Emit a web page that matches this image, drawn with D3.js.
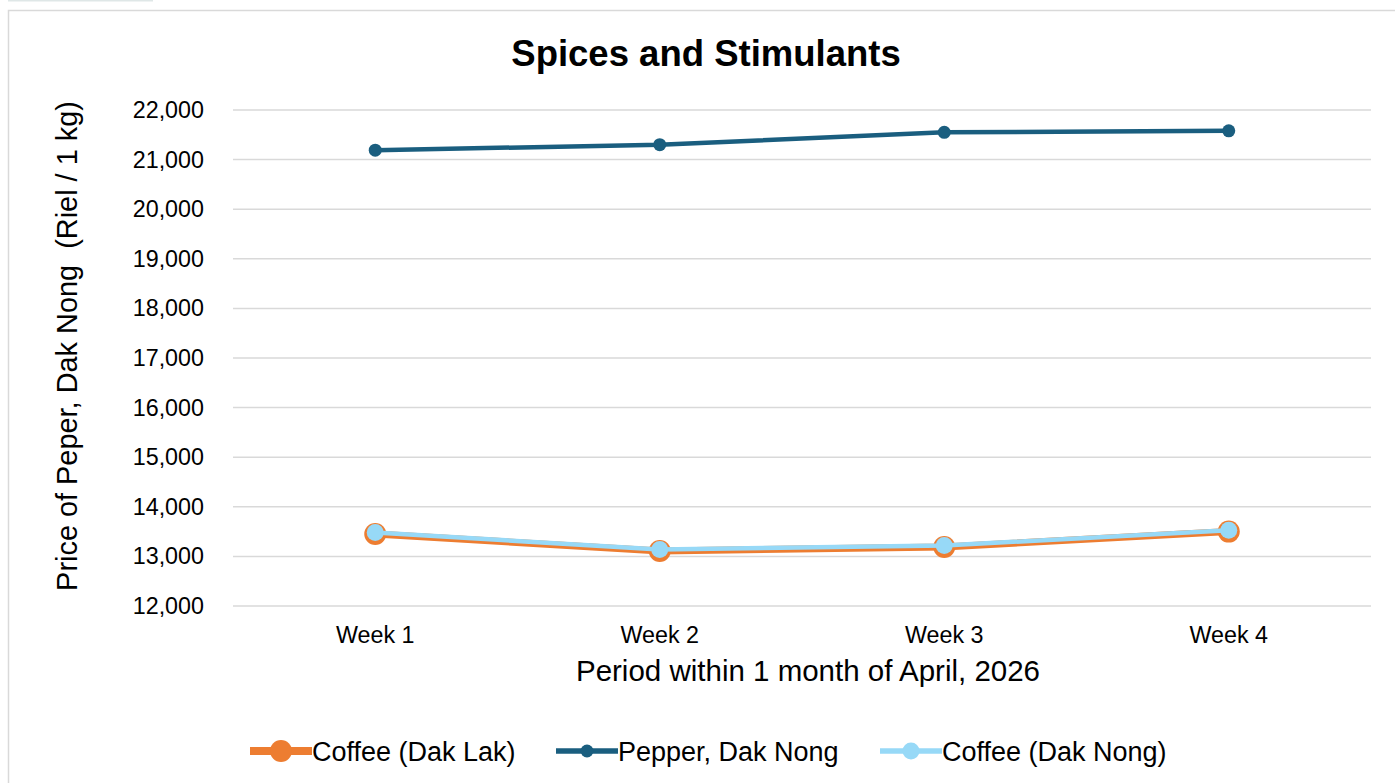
<!DOCTYPE html>
<html><head><meta charset="utf-8">
<script src="https://cdn.jsdelivr.net/npm/d3@7/dist/d3.min.js"></script>
<style>body{margin:0;background:#fff;}svg{display:block;font-family:"Liberation Sans",Arial,sans-serif;}</style>
</head><body>
<svg id="c" width="1395" height="783"></svg>
<script>
const categories = ["Week 1","Week 2","Week 3","Week 4"];
const coffeeDakLak = [13450, 13110, 13190, 13500];
const pepperDakNong = [21190, 21300, 21550, 21580];
const coffeeDakNong = [13480, 13140, 13220, 13525];
const yTicks = [12000,13000,14000,15000,16000,17000,18000,19000,20000,21000,22000];
const seriesNames = ["Coffee (Dak Lak)","Pepper, Dak Nong","Coffee (Dak Nong)"];

const svg = d3.select("#c");
// frame
svg.append("rect").attr("x",8).attr("y",0).attr("width",145).attr("height",1.5).attr("fill","#dfe7e7");
svg.append("rect").attr("x",8.5).attr("y",10.5).attr("width",1400).attr("height",800).attr("fill","#fff").attr("stroke","#d9d9d9").attr("stroke-width",1.5);

const x = d3.scaleBand().domain(categories).range([233,1371]);
const y = d3.scaleLinear().domain([12000,22000]).range([606,110]);

// grid
svg.append("g").selectAll("line").data(yTicks).join("line")
  .attr("x1",233).attr("x2",1371).attr("y1",d=>y(d)).attr("y2",d=>y(d))
  .attr("stroke","#d9d9d9").attr("stroke-width",1.5);

// y axis labels
const yAxis = d3.axisLeft(y).tickValues(yTicks).tickFormat(d3.format(",")).tickSize(0).tickPadding(0);
const ya = svg.append("g").attr("transform","translate(204,0)").call(yAxis);
ya.select(".domain").remove();
ya.selectAll("text").attr("font-size",23.3).attr("fill","#000").attr("font-family","Liberation Sans, Arial, sans-serif");

const xAxis = d3.axisBottom(x).tickSize(0).tickPadding(0);
const xa = svg.append("g").attr("transform","translate(0,626)").call(xAxis);
xa.select(".domain").remove();
xa.selectAll("text").attr("font-size",23.3).attr("fill","#000").attr("font-family","Liberation Sans, Arial, sans-serif");

const cx = d => x(d) + x.bandwidth()/2;
const line = d3.line().x((d,i)=>cx(categories[i])).y(d=>y(d));

const colors = ["#ED7D31","#1A5E7F","#97D9F7"];
const series = [
  {v:coffeeDakLak, c:colors[0], w:7, r:11},
  {v:pepperDakNong, c:colors[1], w:4.5, r:6.5},
  {v:coffeeDakNong, c:colors[2], w:4.5, r:8.5}
];
series.forEach(s=>{
  svg.append("path").attr("d",line(s.v)).attr("fill","none").attr("stroke",s.c).attr("stroke-width",s.w).attr("stroke-linejoin","round");
  svg.append("g").selectAll("circle").data(s.v).join("circle")
    .attr("cx",(d,i)=>cx(categories[i])).attr("cy",d=>y(d)).attr("r",s.r).attr("fill",s.c);
});

// titles
svg.append("text").attr("x",706).attr("y",66).attr("text-anchor","middle").attr("font-size",36.5).attr("font-weight","bold").text("Spices and Stimulants");
svg.append("text").attr("x",808).attr("y",681).attr("text-anchor","middle").attr("font-size",29.5).text("Period within 1 month of April, 2026");
svg.append("text").attr("transform","translate(77,346) rotate(-90)").attr("text-anchor","middle").attr("font-size",28.9).attr("xml:space","preserve").text("Price of Peper, Dak Nong  (Riel / 1 kg)");

// legend
const leg = [
  {x:250, c:colors[0], w:7, r:11},
  {x:556, c:colors[1], w:4.5, r:6.5},
  {x:880, c:colors[2], w:4.5, r:8.5}
];
leg.forEach((l,i)=>{
  svg.append("line").attr("x1",l.x).attr("x2",l.x+62).attr("y1",751).attr("y2",751).attr("stroke",l.c).attr("stroke-width",l.w+1);
  svg.append("circle").attr("cx",l.x+31).attr("cy",751).attr("r",l.r).attr("fill",l.c);
  svg.append("text").attr("x",l.x+62).attr("y",761).attr("font-size",27).text(seriesNames[i]);
});
</script>
</body></html>
